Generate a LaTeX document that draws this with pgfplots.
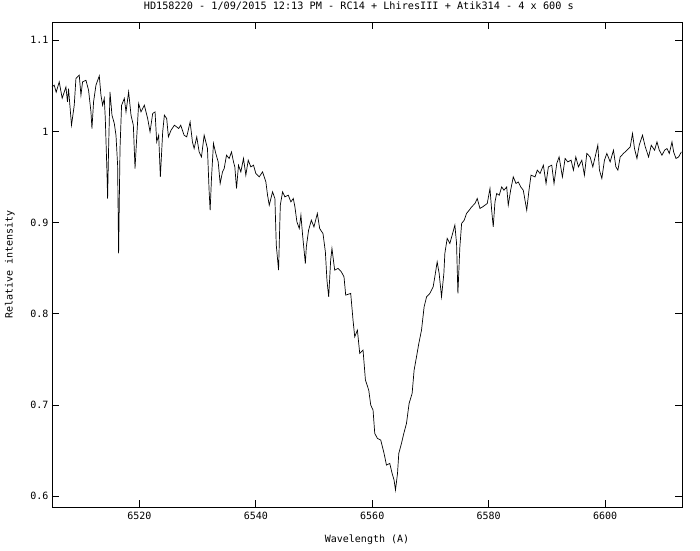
\documentclass[border=0pt]{standalone}
\usepackage{pgfplots}
\pgfplotsset{compat=1.18}
\usepackage{fontspec}
\setmainfont{DejaVu Sans Mono}

% spectre HD158220, valeurs
\pgfplotstableread{
lambda I
6504.98 1.0488
6505.38 1.0507
6505.72 1.0430
6506.24 1.0543
6506.75 1.0364
6507.39 1.0488
6507.66 1.0323
6507.84 1.0470
6508.35 1.0068
6508.82 1.0287
6509.11 1.0580
6509.68 1.0616
6509.97 1.0397
6510.25 1.0543
6510.83 1.0561
6511.28 1.0452
6511.69 1.0214
6511.86 1.0032
6512.14 1.0323
6512.55 1.0507
6513.12 1.0609
6513.41 1.0397
6513.69 1.0287
6513.98 1.0361
6514.15 1.0145
6514.44 0.9556
6514.55 0.9264
6514.72 0.9812
6514.96 1.0433
6515.30 1.0178
6515.70 1.0087
6515.99 0.9958
6516.27 0.9629
6516.44 0.8661
6516.68 0.9812
6516.95 1.0287
6517.42 1.0361
6517.71 1.0214
6518.16 1.0433
6518.57 1.0178
6518.97 1.0068
6519.26 0.9593
6519.54 0.9922
6519.88 1.0306
6520.29 1.0214
6520.86 1.0287
6521.43 1.0141
6521.84 0.9995
6522.29 1.0196
6522.70 1.0214
6522.98 0.9885
6523.32 0.9958
6523.61 0.9501
6524.01 0.9995
6524.30 1.0178
6524.70 1.0141
6524.99 0.9940
6525.45 1.0013
6526.02 1.0068
6526.76 1.0032
6527.11 1.0068
6527.69 0.9958
6528.14 0.9940
6528.72 1.0104
6529.12 0.9885
6529.41 0.9812
6529.86 0.9940
6530.27 0.9775
6530.67 0.9720
6531.13 0.9958
6531.70 0.9812
6531.99 0.9337
6532.16 0.9136
6532.39 0.9484
6532.73 0.9867
6533.13 0.9758
6533.54 0.9666
6533.88 0.9429
6534.28 0.9556
6534.57 0.9593
6534.97 0.9739
6535.43 0.9703
6535.83 0.9775
6536.17 0.9666
6536.40 0.9611
6536.69 0.9374
6537.03 0.9629
6537.43 0.9556
6537.89 0.9703
6538.29 0.9520
6538.70 0.9684
6539.15 0.9611
6539.61 0.9629
6540.01 0.9538
6540.59 0.9501
6541.16 0.9556
6541.73 0.9446
6542.02 0.9300
6542.31 0.9191
6542.88 0.9337
6543.28 0.9264
6543.52 0.8752
6543.91 0.8478
6544.21 0.9191
6544.60 0.9337
6545.00 0.9282
6545.58 0.9300
6546.03 0.9227
6546.44 0.9264
6546.72 0.9172
6547.06 0.9008
6547.47 0.8935
6547.75 0.9081
6548.04 0.8862
6548.51 0.8551
6548.68 0.8734
6549.07 0.8917
6549.54 0.9026
6549.99 0.8953
6550.57 0.9100
6550.97 0.8935
6551.54 0.8880
6551.95 0.8679
6552.22 0.8368
6552.52 0.8185
6552.86 0.8588
6553.08 0.8716
6553.55 0.8478
6554.12 0.8497
6554.70 0.8459
6555.15 0.8405
6555.44 0.8204
6556.30 0.8223
6556.70 0.7930
6556.99 0.7747
6557.45 0.7820
6557.85 0.7565
6558.42 0.7601
6558.83 0.7272
6559.40 0.7162
6559.74 0.6998
6560.14 0.6943
6560.43 0.6687
6560.89 0.6633
6561.46 0.6614
6562.03 0.6468
6562.44 0.6340
6563.01 0.6358
6563.41 0.6249
6563.75 0.6175
6563.99 0.6066
6564.34 0.6249
6564.56 0.6468
6565.02 0.6578
6565.42 0.6687
6565.88 0.6797
6566.33 0.7016
6566.85 0.7126
6567.19 0.7381
6567.60 0.7527
6568.00 0.7674
6568.46 0.7820
6568.91 0.8076
6569.33 0.8185
6569.89 0.8223
6570.46 0.8295
6570.75 0.8405
6571.15 0.8569
6571.49 0.8442
6571.90 0.8185
6572.30 0.8442
6572.47 0.8661
6572.87 0.8826
6573.33 0.8771
6573.80 0.8880
6574.19 0.8972
6574.48 0.8771
6574.71 0.8223
6575.05 0.8734
6575.35 0.8990
6575.79 0.9026
6576.20 0.9100
6576.65 0.9136
6577.07 0.9172
6577.64 0.9209
6578.03 0.9264
6578.50 0.9155
6578.96 0.9172
6579.36 0.9191
6579.75 0.9209
6580.22 0.9374
6580.51 0.9136
6580.78 0.8953
6581.08 0.9227
6581.37 0.9319
6581.81 0.9300
6582.23 0.9391
6582.62 0.9355
6583.09 0.9391
6583.36 0.9191
6583.77 0.9355
6584.22 0.9501
6584.69 0.9429
6585.08 0.9446
6585.50 0.9391
6585.94 0.9355
6586.53 0.9136
6586.92 0.9355
6587.27 0.9520
6587.96 0.9501
6588.35 0.9575
6588.82 0.9538
6589.39 0.9629
6589.85 0.9429
6590.25 0.9611
6590.83 0.9629
6591.22 0.9429
6591.69 0.9648
6592.09 0.9720
6592.66 0.9501
6593.12 0.9703
6593.58 0.9666
6594.15 0.9684
6594.55 0.9575
6594.96 0.9720
6595.41 0.9611
6595.99 0.9684
6596.44 0.9520
6596.85 0.9758
6597.42 0.9720
6597.88 0.9611
6598.28 0.9720
6598.74 0.9849
6599.02 0.9575
6599.43 0.9484
6599.88 0.9684
6600.29 0.9758
6600.86 0.9666
6601.43 0.9794
6601.84 0.9611
6602.19 0.9575
6602.58 0.9720
6603.15 0.9758
6603.74 0.9794
6604.30 0.9830
6604.70 0.9977
6605.04 0.9812
6605.46 0.9703
6605.85 0.9849
6606.42 0.9958
6606.89 0.9830
6607.46 0.9720
6607.92 0.9849
6608.49 0.9794
6608.90 0.9885
6609.30 0.9794
6609.76 0.9739
6610.21 0.9794
6610.62 0.9812
6611.02 0.9758
6611.48 0.9885
6611.76 0.9775
6612.17 0.9703
6612.62 0.9720
6613.09 0.9775
}\spectre

\begin{document}
\begin{tikzpicture}
\useasboundingbox (-52pt,-43pt) rectangle (648pt,507pt);
\begin{axis}[
    at={(0pt,0pt)}, anchor=south west,
    scale only axis,
    width=630pt, height=485pt,
    xmin=6505, xmax=6613.2,
    ymin=0.588, ymax=1.12,
    xtick={6520,6540,6560,6580,6600},
    ytick={0.6,0.7,0.8,0.9,1,1.1},
    tick align=inside,
    major tick length=7pt,
    tick style={black, line width=0.6pt},
    axis line style={line width=0.8pt},
    /pgf/number format/1000 sep={},
    /pgf/number format/assume math mode=true,
    ticklabel style={font=\fontsize{10}{11}\selectfont},
    xticklabel style={yshift=-2pt},
    label style={font=\fontsize{10}{11}\selectfont},
    title style={font=\fontsize{10.2}{11}\selectfont, at={(axis description cs:0.487,1.021)}, anchor=center},
    xlabel style={at={(axis description cs:0.5,-0.068)}, anchor=center},
    ylabel style={at={(axis description cs:-0.067,0.5)}, anchor=center},
    title={HD158220 - 1/09/2015 12:13 PM - RC14 + LhiresIII + Atik314 - 4 x 600 s},
    xlabel={Wavelength (A)},
    ylabel={Relative intensity},
]
\addplot[black, line width=0.7pt, mark=none] table[x=lambda, y=I] {\spectre};
\end{axis}
\end{tikzpicture}
\end{document}
